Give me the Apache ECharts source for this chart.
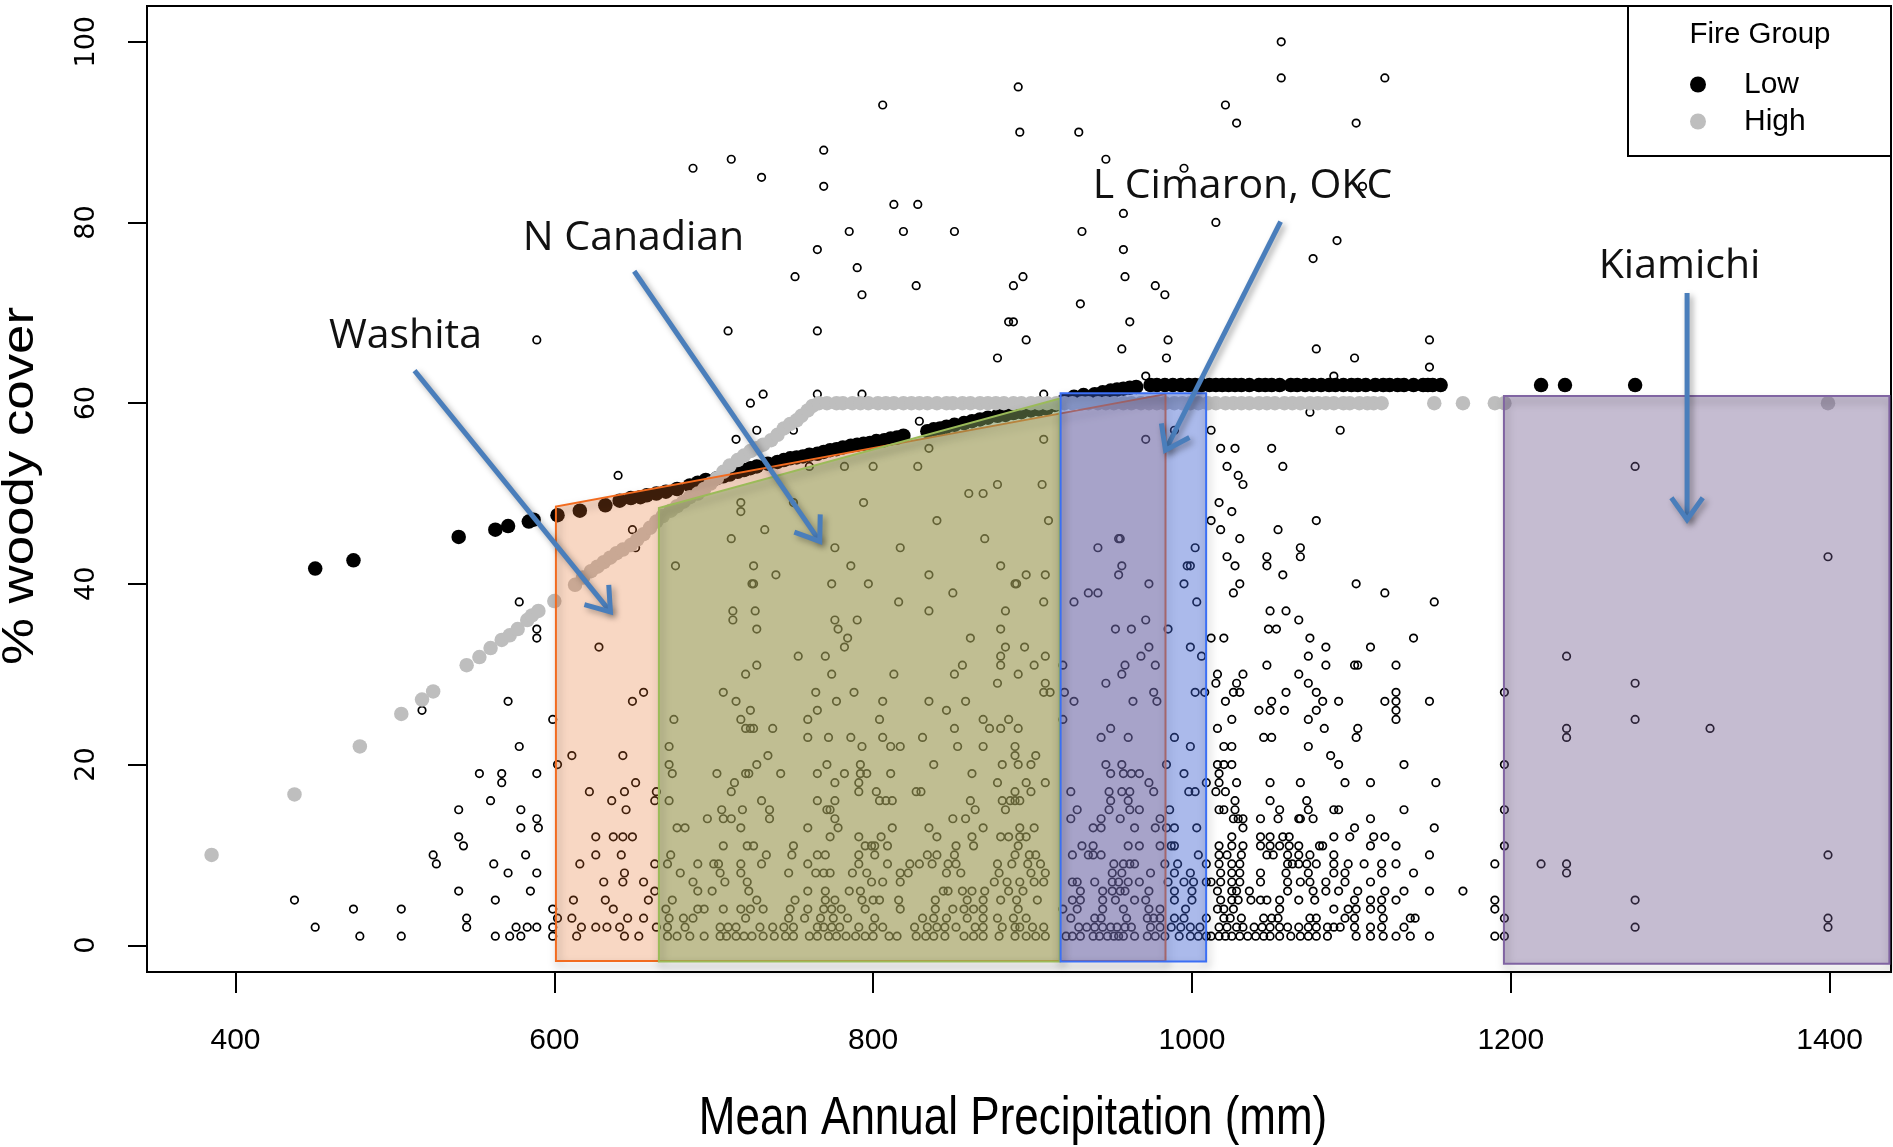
<!DOCTYPE html>
<html>
<head>
<meta charset="utf-8">
<script src="https://cdn.jsdelivr.net/npm/echarts@6.0.0/dist/echarts.min.js"></script>
<style>
  html, body { margin: 0; padding: 0; background: #fff; }
  #WoodyChart { width: 1893px; height: 1147px; }
</style>
</head>
<body>
<div id="WoodyChart"></div>
<script>
// ---- axis ticks ----
const xTicks = [400, 600, 800, 1000, 1200, 1400];
const yTicks = [0, 20, 40, 60, 80, 100];

// ---- observed sites, one row per % cover: [cover, precip, precip, ...] ----
const obsWest = [
  [38, 578], [27, 571], [26, 517], [22, 578], [19, 553, 567], [18, 567], [16, 560],
  [15, 540, 579], [13, 579], [12, 540], [11, 543], [10, 524, 582], [9, 526, 562],
  [8, 571], [6, 540], [5, 437, 563], [4, 474, 504], [3, 545], [2, 450, 545, 576, 583],
  [1, 478, 504, 563, 572, 579]
];
const obsCentral = [
  [42, 676, 725, 786, 880],
  [41, 739, 835, 896, 908],
  [40, 724, 725, 774, 797, 889, 890],
  [39, 850],
  [38, 816, 907],
  [37, 712, 726, 835, 883],
  [36, 712, 776, 790],
  [35, 589, 727, 778, 880],
  [34, 589, 784, 861],
  [33, 628, 782, 883, 895],
  [32, 753, 770, 880, 908],
  [31, 727, 856, 880, 901],
  [30, 720, 774, 813, 851, 891],
  [29, 878, 908],
  [28, 656, 706, 764, 788, 907],
  [27, 649, 714, 777, 806, 835, 858],
  [26, 723, 765, 846],
  [25, 599, 675, 717, 759, 804, 869, 885],
  [24, 720, 723, 725, 737, 851, 873, 880, 891],
  [23, 759, 772, 786, 806, 831],
  [22, 672, 793, 811, 817, 853, 869, 889],
  [21, 611, 643, 734, 889, 902],
  [20, 602, 672, 727, 771, 792, 838, 881, 891, 899],
  [19, 589, 674, 702, 720, 722, 742, 765, 782, 792, 796, 811, 862],
  [18, 651, 713, 776, 791, 878, 896, 908],
  [17, 622, 644, 664, 711, 791, 802, 827, 830, 889, 899],
  [16, 636, 663, 672, 730, 765, 776, 804, 808, 812, 861, 881, 886, 889, 892],
  [15, 645, 705, 718, 735, 771, 773, 864, 883],
  [14, 589, 696, 706, 711, 735, 776, 850, 858],
  [13, 590, 677, 682, 717, 759, 778, 812, 835, 869, 892, 901],
  [12, 626, 637, 643, 649, 773, 791, 805, 840, 862, 880, 885, 892, 896],
  [11, 706, 721, 725, 750, 795, 799, 801, 809, 852, 863, 891],
  [10, 626, 642, 673, 733, 749, 765, 770, 791, 801, 834, 840, 851, 889, 898, 902],
  [9, 616, 663, 671, 690, 700, 703, 717, 730, 759, 791, 809, 823, 829, 837, 847, 852, 878, 887, 897, 905],
  [8, 589, 644, 679, 704, 717, 747, 764, 769, 773, 787, 796, 817, 822, 846, 855, 879, 899, 908],
  [7, 631, 643, 656, 687, 707, 721, 799, 806, 817, 876, 884, 892, 901, 907],
  [6, 585, 663, 690, 699, 722, 759, 770, 785, 792, 844, 847, 856, 862, 870, 885, 894],
  [5, 612, 632, 659, 674, 727, 751, 770, 776, 793, 800, 804, 816, 839, 859, 869, 880, 890, 903],
  [4, 599, 637, 670, 690, 694, 706, 717, 723, 731, 748, 759, 769, 774, 780, 795, 817, 839, 850, 857, 863, 869, 891],
  [3, 602, 611, 646, 656, 672, 681, 687, 720, 747, 757, 767, 775, 784, 801, 831, 838, 846, 859, 869, 878, 888, 896],
  [2, 589, 599, 617, 626, 633, 641, 664, 671, 682, 704, 709, 714, 729, 737, 744, 750, 765, 769, 774, 779, 791, 800, 806, 826, 834, 840, 845, 852, 864, 869, 881, 889, 892, 900, 907],
  [1, 599, 614, 644, 653, 671, 677, 685, 694, 704, 708, 714, 719, 724, 731, 738, 745, 750, 760, 765, 772, 777, 783, 789, 795, 800, 810, 815, 827, 833, 838, 845, 857, 863, 869, 879, 889, 896, 902, 908]
];
const obsEast = [
  [42, 956, 997, 999, 1027, 1047],
  [41, 954, 1057],
  [40, 973, 995, 1030, 1103],
  [39, 935, 941, 1026, 1121],
  [38, 926, 1003, 1152],
  [37, 1049, 1059],
  [36, 971, 1067],
  [35, 952, 962, 985, 1048, 1053],
  [34, 1012, 1020, 1074, 1139],
  [33, 973, 999, 1084, 1112],
  [32, 968, 1006, 1073],
  [31, 919, 958, 977, 1047, 1084, 1102, 1104, 1128],
  [30, 956, 1016, 1032, 1067],
  [29, 946, 1015, 1028, 1073],
  [28, 911, 920, 976, 1002, 1008, 1026, 1030, 1059, 1078, 1128],
  [27, 926, 963, 978, 1021, 1050, 1082, 1092, 1121, 1128, 1149],
  [26, 1042, 1049, 1058, 1078, 1128],
  [25, 919, 1025, 1073, 1128],
  [24, 949, 1016, 1083, 1104],
  [23, 943, 960, 989, 1045, 1050, 1103],
  [22, 999, 1020, 1025, 1073],
  [21, 1087],
  [20, 946, 956, 984, 1016, 1020, 1025, 1092, 1133],
  [19, 949, 957, 962, 967, 995, 1017],
  [18, 973, 1009, 1017, 1028, 1049, 1068, 1096, 1112, 1153],
  [17, 924, 948, 956, 961, 976, 998, 1002, 1015, 1021],
  [16, 949, 960, 1027, 1049, 1072],
  [15, 928, 948, 961, 967, 986, 1017, 1020, 1027, 1055, 1073, 1089, 1092, 1133],
  [14, 924, 943, 955, 980, 1026, 1029, 1032, 1043, 1054, 1067, 1068, 1076, 1112],
  [13, 938, 943, 964, 977, 984, 989, 1003, 1032, 1102, 1152],
  [12, 1025, 1043, 1049, 1057, 1061, 1089, 1099, 1114, 1121],
  [11, 931, 938, 960, 967, 980, 987, 989, 1017, 1025, 1032, 1043, 1049, 1055, 1061, 1067, 1080, 1082, 1112, 1128],
  [10, 925, 935, 938, 943, 1004, 1017, 1022, 1031, 1047, 1051, 1060, 1067, 1074, 1089, 1149],
  [9, 951, 957, 961, 964, 983, 991, 1009, 1017, 1025, 1030, 1060, 1063, 1067, 1072, 1078, 1089, 1098, 1108, 1119, 1128],
  [8, 950, 956, 974, 989, 999, 1018, 1025, 1030, 1043, 1059, 1073, 1089, 1096, 1119, 1139],
  [7, 925, 928, 939, 950, 954, 960, 967, 985, 995, 1001, 1009, 1012, 1018, 1025, 1030, 1043, 1060, 1068, 1074, 1084, 1096, 1112],
  [6, 930, 944, 950, 955, 958, 973, 989, 1000, 1016, 1025, 1028, 1036, 1060, 1076, 1084, 1092, 1104, 1121, 1133, 1149],
  [5, 925, 930, 944, 952, 964, 971, 989, 1000, 1018, 1025, 1029, 1037, 1043, 1047, 1055, 1067, 1077, 1102, 1112, 1119, 1128],
  [4, 919, 928, 944, 957, 973, 980, 996, 1016, 1020, 1026, 1055, 1089, 1098, 1103, 1112, 1119],
  [3, 924, 939, 943, 959, 972, 976, 980, 989, 995, 1009, 1020, 1024, 1031, 1045, 1050, 1054, 1074, 1078, 1096, 1102, 1120, 1137, 1140],
  [2, 929, 934, 939, 944, 949, 953, 958, 962, 974, 980, 987, 993, 999, 1005, 1017, 1022, 1028, 1032, 1039, 1044, 1049, 1055, 1060, 1067, 1073, 1078, 1085, 1089, 1093, 1102, 1112, 1119, 1133],
  [1, 921, 925, 930, 938, 942, 947, 951, 954, 957, 964, 972, 977, 983, 992, 999, 1004, 1009, 1012, 1017, 1021, 1025, 1030, 1035, 1040, 1045, 1049, 1055, 1062, 1068, 1073, 1078, 1085, 1103, 1112, 1120, 1128, 1137, 1149]
];
const obsFar = [
  [53, 1278], [43, 1399], [32, 1235], [29, 1278], [28, 1196], [25, 1278], [24, 1235, 1325],
  [23, 1235], [20, 1196], [15, 1196], [11, 1196], [10, 1399], [9, 1190, 1219, 1235],
  [8, 1235], [6, 1170], [5, 1190, 1278], [4, 1190], [3, 1196, 1399], [2, 1278, 1399],
  [1, 1190, 1196]
];
const obsUpper = [
  [100, 1056], [96, 1056, 1121], [95, 891], [93, 806, 1021], [91, 1028, 1103], [90, 892, 929],
  [88, 769], [87, 711, 946], [86, 687, 995], [85, 730], [84, 769, 1107], [82, 813, 828],
  [81, 957], [80, 1015], [79, 785, 819, 851, 931], [78, 1091], [77, 765, 957], [76, 1076],
  [75, 790], [74, 751, 894, 958], [73, 827, 888, 977], [72, 793, 983], [71, 930],
  [69, 885, 888, 961], [68, 709, 765], [67, 589, 896, 985, 1149], [66, 956, 1078],
  [65, 878, 984, 1102], [64, 1149], [63, 971, 1089], [61, 731, 765, 793, 907], [60, 723],
  [59, 1074], [58, 829], [57, 727, 750, 989, 1012, 1093], [56, 714, 907, 971],
  [55, 835, 1018, 1027, 1050], [53, 760, 782, 800, 828, 1022, 1057], [52, 640, 1029],
  [51, 878, 906, 1032], [50, 860, 869], [49, 717, 750, 794, 1017], [48, 717, 1025],
  [47, 840, 910, 1012, 1078], [46, 649, 732, 1018, 1054], [45, 711, 870, 954, 955, 1030],
  [44, 651, 776, 817, 941, 1002, 1068], [43, 1022, 1047, 1068]
];

// ---- fitted woody cover, Low fire group [precip, cover] ----
const lowFit = [
  [450, 41.7], [474, 42.6], [540, 45.2], [563, 46.0], [571, 46.4], [584, 46.9], [587, 47.1],
  [602, 47.6], [616, 48.1], [632, 48.7], [641, 49.2], [648, 49.5], [654, 49.6], [658, 49.8],
  [664, 50.0], [670, 50.2], [677, 50.5], [685, 50.9], [690, 51.2], [695, 51.5], [702, 51.7],
  [706, 51.9], [710, 52.1], [715, 52.4], [719, 52.6], [723, 52.8], [727, 53.0], [734, 53.3],
  [740, 53.5], [744, 53.7], [748, 53.9], [752, 54.0], [756, 54.1], [760, 54.3], [765, 54.4],
  [769, 54.6], [773, 54.8], [777, 54.9], [781, 55.1], [786, 55.3], [790, 55.4], [794, 55.5],
  [798, 55.6], [802, 55.8], [807, 55.9], [811, 56.1], [815, 56.2], [819, 56.4], [834, 56.9],
  [838, 57.1], [842, 57.2], [846, 57.4], [851, 57.6], [857, 57.8], [862, 58.0], [867, 58.2],
  [872, 58.4], [878, 58.6], [883, 58.7], [888, 58.9], [893, 59.0], [899, 59.2], [904, 59.3],
  [909, 59.4], [914, 59.8], [920, 60.3], [926, 60.7], [932, 60.9], [939, 61.0], [944, 61.2],
  [949, 61.4], [953, 61.5], [957, 61.6], [961, 61.7], [965, 61.8], [974, 62], [978, 62],
  [983, 62], [988, 62], [993, 62], [998, 62], [1002, 62], [1006, 62], [1011, 62], [1015, 62],
  [1019, 62], [1023, 62], [1027, 62], [1031, 62], [1036, 62], [1042, 62], [1046, 62],
  [1050, 62], [1055, 62], [1062, 62], [1066, 62], [1071, 62], [1076, 62], [1081, 62],
  [1086, 62], [1090, 62], [1095, 62], [1100, 62], [1104, 62], [1109, 62], [1115, 62],
  [1120, 62], [1124, 62], [1129, 62], [1133, 62], [1139, 62], [1145, 62], [1148, 62],
  [1151, 62], [1156, 62], [1219, 62], [1234, 62], [1278, 62]
];
// ---- fitted woody cover, High fire group [precip, cover] ----
const highFit = [
  [385, 10.0], [437, 16.7], [478, 22.0], [504, 25.6], [517, 27.2], [524, 28.1], [545, 31.0],
  [553, 31.9], [560, 32.9], [567, 33.8], [572, 34.3], [577, 35.0], [583, 36.0], [586, 36.5],
  [590, 37.0], [600, 38.1], [613, 39.9], [618, 40.7], [623, 41.4], [627, 41.9], [631, 42.4],
  [635, 42.9], [639, 43.4], [643, 43.8], [648, 44.3], [652, 44.9], [656, 45.5], [660, 46.2],
  [664, 46.9], [668, 47.5], [673, 48.1], [677, 48.6], [681, 49.1], [685, 49.6], [690, 50.0],
  [694, 50.5], [698, 51.1], [702, 51.7], [706, 52.4], [710, 53.1], [715, 53.7], [719, 54.2],
  [723, 54.7], [727, 55.0], [731, 55.4], [736, 55.9], [740, 56.5], [744, 57.2], [748, 57.7],
  [752, 58.1], [755, 58.6], [759, 59.2], [762, 59.7], [766, 60], [771, 60], [777, 60],
  [781, 60], [787, 60], [792, 60], [797, 60], [803, 60], [808, 60], [813, 60], [819, 60],
  [824, 60], [829, 60], [834, 60], [840, 60], [846, 60], [850, 60], [856, 60], [861, 60],
  [867, 60], [872, 60], [877, 60], [882, 60], [888, 60], [893, 60], [899, 60], [904, 60],
  [909, 60], [915, 60], [920, 60], [925, 60], [931, 60], [935, 60], [941, 60], [946, 60],
  [951, 60], [957, 60], [962, 60], [968, 60], [973, 60], [978, 60], [983, 60], [989, 60],
  [994, 60], [999, 60], [1004, 60], [1010, 60], [1015, 60], [1021, 60], [1026, 60],
  [1031, 60], [1036, 60], [1042, 60], [1047, 60], [1052, 60], [1058, 60], [1063, 60],
  [1068, 60], [1074, 60], [1079, 60], [1084, 60], [1089, 60], [1095, 60], [1099, 60],
  [1105, 60], [1110, 60], [1114, 60], [1119, 60], [1152, 60], [1170, 60], [1190, 60],
  [1196, 60], [1399, 60]
];

// ---- river basin annotations (data units) ----
const washitaArea = [[601, -1.75], [983.4, -1.75], [983.4, 61.0], [601, 48.55]];
const canadianArea = [[665.6, -1.8], [917, -1.8], [917, 60.5], [665.6, 48.4]];
const cimarronArea = [[917.6, -1.8], [1008.9, -1.8], [1008.9, 61.1], [917.6, 61.1]];
const kiamichiArea = [[1195.7, -2.05], [1437.5, -2.05], [1437.5, 60.8], [1195.7, 60.8]];
const siteNames = ['Washita', 'N Canadian', 'L Cimaron, OKC', 'Kiamichi'];
const siteLabelAt = [[506.6, 67.45], [649.7, 78.25], [1031.7, 84.05], [1305.9, 75.15]];
// arrow: [fromX, fromY, toX, toY]
const siteArrows = [[512.3, 63.6, 635.2, 36.9], [650.1, 74.6, 766.5, 44.7], [1055.6, 80.1, 983.4, 54.8], [1310.6, 72.2, 1310.6, 47.1]];

function rowsToPoints(rows) {
  const pts = [];
  rows.forEach(r => { for (let i = 1; i < r.length; i++) pts.push([r[i], r[0]]); });
  return pts;
}
const obsPoints = [].concat(rowsToPoints(obsWest), rowsToPoints(obsCentral), rowsToPoints(obsEast),
  rowsToPoints(obsFar), rowsToPoints(obsUpper));

const areas = [washitaArea, canadianArea, cimarronArea, kiamichiArea];
const areaStyle = [
  { fill: 'rgba(230,110,40,0.28)', stroke: '#f26b1f' },
  { fill: 'rgba(136,166,97,0.5)', stroke: '#9bbb59' },
  { fill: 'rgba(60,95,209,0.43)', stroke: '#3b6ff5' },
  { fill: 'rgba(110,88,140,0.4)', stroke: '#8064a2' }
];
const arrowColor = '#4a7ebb';
const rFont = "'Liberation Sans', Arial, sans-serif";

const chart = echarts.init(document.getElementById('WoodyChart'));
const option = {
  animation: false,
  backgroundColor: '#fff',
  grid: {
    left: 147, top: 6, right: 2, bottom: 175,
    show: true, borderColor: '#000', borderWidth: 2,
    outerBoundsMode: 'none'
  },
  xAxis: {
    type: 'value', min: 344.48, max: 1438.52,
    axisLine: { show: false, onZero: false },
    splitLine: { show: false },
    axisTick: { show: true, length: 21, customValues: xTicks, lineStyle: { color: '#000', width: 2 } },
    axisLabel: {
      customValues: xTicks, margin: 54, color: '#000', fontSize: 30,
      fontFamily: rFont,
      formatter: v => String(v)
    }
  },
  yAxis: {
    type: 'value', min: -2.96, max: 103.96,
    axisLine: { show: false, onZero: false },
    splitLine: { show: false },
    axisTick: { show: true, length: 19, customValues: yTicks, lineStyle: { color: '#000', width: 2 } },
    axisLabel: {
      customValues: yTicks, rotate: 90, margin: 47, color: '#000', fontSize: 27,
      fontFamily: "'DejaVu Sans', sans-serif",
      formatter: v => String(v)
    }
  },
  legend: {
    data: ['Low', 'High'],
    orient: 'vertical', left: 1690, top: 66, padding: 0, itemGap: 0,
    itemWidth: 82, itemHeight: 16, icon: 'circle', selectedMode: false, z: 60,
    textStyle: { color: '#000', fontSize: 30, lineHeight: 37, fontFamily: rFont }
  },
  graphic: [
    { type: 'rect', z: 50, shape: { x: 1628, y: 6, width: 263, height: 150 },
      style: { fill: '#fff', stroke: '#000', lineWidth: 2 } },
    { type: 'text', z: 51, x: 1760, y: 35,
      style: { text: 'Fire Group', fontSize: 29.5, fontFamily: rFont, fill: '#000',
        align: 'center', verticalAlign: 'middle', textAlign: 'center', textVerticalAlign: 'middle' } },
    { type: 'text', z: 51, x: 1013, y: 1119, scaleY: 1.2,
      style: { text: 'Mean Annual Precipitation (mm)', fontSize: 44, fontFamily: rFont, fill: '#000',
        align: 'center', verticalAlign: 'middle', textAlign: 'center', textVerticalAlign: 'middle' } },
    { type: 'text', z: 51, x: 21, y: 486, rotation: Math.PI / 2, scaleX: 1.2,
      style: { text: '% woody cover', fontSize: 44, fontFamily: rFont, fill: '#000',
        align: 'center', verticalAlign: 'middle', textAlign: 'center', textVerticalAlign: 'middle' } }
  ],
  series: [
    {
      name: 'Observed', type: 'scatter', z: 2, silent: true,
      symbol: 'circle', symbolSize: 7.5,
      itemStyle: { color: 'rgba(0,0,0,0)', borderColor: '#000', borderWidth: 1.7, opacity: 1 },
      data: obsPoints
    },
    {
      name: 'Low', type: 'scatter', z: 3, silent: true,
      symbol: 'circle', symbolSize: 14.5,
      itemStyle: { color: '#000', opacity: 1 },
      data: lowFit
    },
    {
      name: 'High', type: 'scatter', z: 4, silent: true,
      symbol: 'circle', symbolSize: 14.5,
      itemStyle: { color: '#bebebe', opacity: 1 },
      data: highFit
    },
    {
      name: 'basins', type: 'custom', z: 5, silent: true,
      data: areas.map((a, i) => [a[0][0], a[0][1], i]),
      renderItem: (params, api) => {
        const i = api.value(2);
        const pts = areas[i].map(p => api.coord(p));
        return {
          type: 'group',
          children: [
            { type: 'polygon', shape: { points: pts }, style: { fill: areaStyle[i].fill } },
            { type: 'polygon', shape: { points: pts },
              style: { fill: 'none', stroke: areaStyle[i].stroke, lineWidth: 2,
                shadowBlur: 9, shadowOffsetX: 2, shadowOffsetY: 5, shadowColor: 'rgba(0,0,0,0.35)' } }
          ]
        };
      }
    },
    {
      name: 'arrows', type: 'custom', z: 6, silent: true,
      data: siteArrows.map((a, i) => [a[0], a[1], i]),
      renderItem: (params, api) => {
        const a = siteArrows[api.value(2)];
        const p0 = api.coord([a[0], a[1]]);
        const p1 = api.coord([a[2], a[3]]);
        const ang = Math.atan2(p1[1] - p0[1], p1[0] - p0[0]);
        const L = 27, spread = 0.62;
        const h1 = [p1[0] - L * Math.cos(ang - spread), p1[1] - L * Math.sin(ang - spread)];
        const h2 = [p1[0] - L * Math.cos(ang + spread), p1[1] - L * Math.sin(ang + spread)];
        const st = { stroke: arrowColor, lineWidth: 5, fill: 'none',
          shadowBlur: 6, shadowOffsetX: 3, shadowOffsetY: 3, shadowColor: 'rgba(0,0,0,0.35)' };
        return {
          type: 'group',
          children: [
            { type: 'line', shape: { x1: p0[0], y1: p0[1], x2: p1[0], y2: p1[1] }, style: st },
            { type: 'polyline', shape: { points: [h1, p1, h2] }, style: Object.assign({ lineJoin: 'miter' }, st) }
          ]
        };
      }
    },
    {
      name: 'names', type: 'custom', z: 7, silent: true,
      data: siteLabelAt.map((p, i) => [p[0], p[1], i]),
      renderItem: (params, api) => {
        const p = api.coord([api.value(0), api.value(1)]);
        return {
          type: 'text', x: p[0], y: p[1],
          style: { text: siteNames[api.value(2)], fontSize: 41, fontFamily: "'Open Sans', sans-serif",
            fill: '#111', align: 'center', verticalAlign: 'middle', textAlign: 'center', textVerticalAlign: 'middle' }
        };
      }
    }
  ]
};
chart.setOption(option);
window.addEventListener('resize', chart.resize);
</script>
</body>
</html>
